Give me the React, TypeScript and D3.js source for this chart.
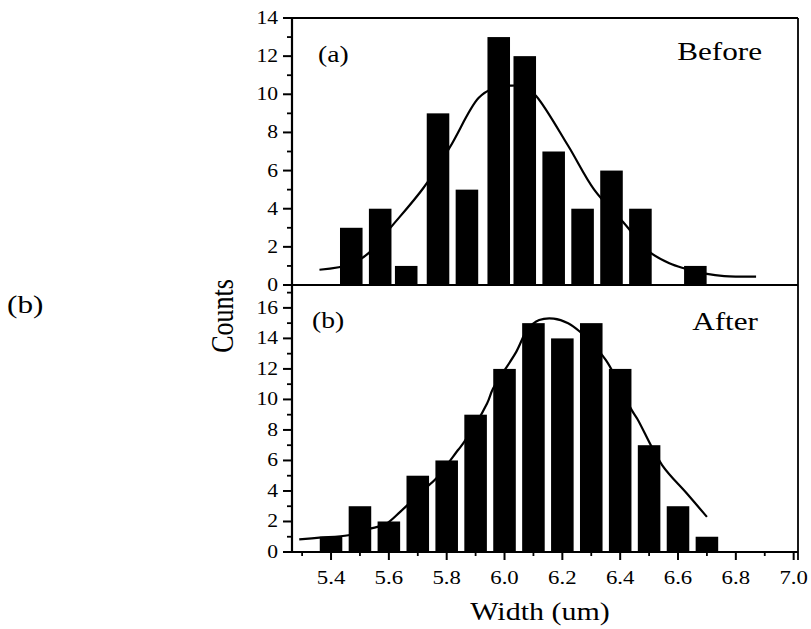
import * as d3 from "d3";

const W = 811;
const H = 629;
const SX = 1.2; // the scanned figure is stretched sideways, so is the text

// Before (a)
const beforeBins = [5.47, 5.57, 5.66, 5.77, 5.87, 5.98, 6.07, 6.17, 6.27, 6.37, 6.47, 6.66];
const beforeCounts = [3, 4, 1, 9, 5, 13, 12, 7, 4, 6, 4, 1];
const beforeFitX = [5.36, 5.47, 5.54, 5.6, 5.72, 5.81, 5.91, 5.96, 6.02, 6.07, 6.11, 6.22, 6.31, 6.41, 6.5, 6.57, 6.62, 6.7, 6.76, 6.87];
const beforeFitY = [0.8, 1.1, 1.8, 2.9, 5.1, 7.2, 9.8, 10.3, 10.45, 10.4, 9.9, 7.3, 5.0, 3.3, 1.75, 1.14, 0.88, 0.58, 0.47, 0.44];

// After (b)
const afterBins = [5.4, 5.5, 5.6, 5.7, 5.8, 5.9, 6.0, 6.1, 6.2, 6.3, 6.4, 6.5, 6.6, 6.7];
const afterCounts = [1, 3, 2, 5, 6, 9, 12, 15, 14, 15, 12, 7, 3, 1];
const afterFitX = [5.29, 5.36, 5.46, 5.53, 5.59, 5.64, 5.73, 5.76, 5.84, 5.86, 5.94, 5.96, 6.04, 6.08, 6.12, 6.17, 6.22, 6.26, 6.35, 6.44, 6.46, 6.545, 6.63, 6.7];
const afterFitY = [0.83, 0.94, 1.1, 1.5, 1.85, 2.65, 4.25, 4.75, 6.7, 7.2, 9.75, 10.7, 13.1, 14.6, 15.2, 15.3, 15.0, 14.45, 12.6, 9.3, 8.7, 5.7, 3.85, 2.3];

const xTicks = [5.4, 5.6, 5.8, 6.0, 6.2, 6.4, 6.6, 6.8, 7.0];
const xTickLabels = ["5.4", "5.6", "5.8", "6.0", "6.2", "6.4", "6.6", "6.8", "7.0"];
const xMinor = [5.3, 5.5, 5.7, 5.9, 6.1, 6.3, 6.5, 6.7, 6.9];
const beforeTicks = [0, 2, 4, 6, 8, 10, 12, 14];
const beforeMinor = [1, 3, 5, 7, 9, 11, 13];
const afterTicks = [0, 2, 4, 6, 8, 10, 12, 14, 16];
const afterMinor = [1, 3, 5, 7, 9, 11, 13, 15, 17];

const FONT = "'Liberation Serif', 'Times New Roman', serif";
const BAR_W = 0.078;

const x = d3.scaleLinear().domain([5.265, 7.015]).range([292, 798]);
const yTop = d3.scaleLinear().domain([0, 14]).range([285, 18]);
const yBot = d3.scaleLinear().domain([0, 17.5]).range([552, 285]);

function Label({ px, py, size, anchor = "start", children }: any) {
  return (
    <text
      transform={`translate(${px},${py}) scale(${SX},1)`}
      textAnchor={anchor}
      fontFamily={FONT}
      fontSize={size}
      fill="#000"
    >
      {children}
    </text>
  );
}

function Panel({ y, bins, counts, fitX, fitY, ticks, minor }: any) {
  const line = d3
    .line<number>()
    .x((_d, i) => x(fitX[i]))
    .y((d) => y(d))
    .curve(d3.curveCatmullRom.alpha(0.5));
  const x0 = x.range()[0];
  return (
    <g>
      {bins.map((b: number, i: number) => (
        <rect
          key={i}
          x={x(b - BAR_W / 2)}
          width={x(b + BAR_W / 2) - x(b - BAR_W / 2)}
          y={y(counts[i])}
          height={y(0) - y(counts[i])}
          fill="#000"
        />
      ))}
      <path d={line(fitY) || ""} fill="none" stroke="#000" strokeWidth={2.2} />
      {ticks.map((t: number) => (
        <g key={"t" + t}>
          <line x1={x0 - 9} x2={x0} y1={y(t)} y2={y(t)} stroke="#000" strokeWidth={2} />
          <Label px={x0 - 14} py={y(t) + 6} size={18} anchor="end">
            {t}
          </Label>
        </g>
      ))}
      {minor.map((t: number) => (
        <line key={"m" + t} x1={x0 - 5} x2={x0} y1={y(t)} y2={y(t)} stroke="#000" strokeWidth={1.8} />
      ))}
    </g>
  );
}

export default function App() {
  const [xl, xr] = x.range();
  return (
    <div style={{ position: "absolute", left: 0, top: 0, width: W, height: H, background: "#fff" }}>
      <svg width={W} height={H} viewBox={`0 0 ${W} ${H}`} style={{ display: "block" }}>
        <rect width={W} height={H} fill="#fff" />

        <Panel
          y={yTop}
          bins={beforeBins}
          counts={beforeCounts}
          fitX={beforeFitX}
          fitY={beforeFitY}
          ticks={beforeTicks}
          minor={beforeMinor}
        />
        <Panel
          y={yBot}
          bins={afterBins}
          counts={afterCounts}
          fitX={afterFitX}
          fitY={afterFitY}
          ticks={afterTicks}
          minor={afterMinor}
        />

        {/* frame */}
        <line x1={xl} x2={xr} y1={yTop(14)} y2={yTop(14)} stroke="#000" strokeWidth={2} />
        <line x1={xl} x2={xr} y1={yTop(0)} y2={yTop(0)} stroke="#000" strokeWidth={2.2} />
        <line x1={xl} x2={xr} y1={yBot(0)} y2={yBot(0)} stroke="#000" strokeWidth={2.2} />
        <line x1={xl} x2={xl} y1={yTop(14)} y2={yBot(0)} stroke="#000" strokeWidth={2.2} />
        <line x1={xr} x2={xr} y1={yTop(14)} y2={yBot(0) + 8} stroke="#000" strokeWidth={1.8} />

        {/* x axis */}
        {xTicks.map((t, i) => (
          <g key={"x" + t}>
            <line x1={x(t)} x2={x(t)} y1={yBot(0)} y2={yBot(0) + 8} stroke="#000" strokeWidth={2} />
            <Label px={x(t)} py={584} size={19} anchor="middle">
              {xTickLabels[i]}
            </Label>
          </g>
        ))}
        {xMinor.map((t) => (
          <line key={"xm" + t} x1={x(t)} x2={x(t)} y1={yBot(0)} y2={yBot(0) + 4} stroke="#000" strokeWidth={1.8} />
        ))}

        <Label px={540} py={620} size={25} anchor="middle">
          Width (um)
        </Label>
        <g transform={`translate(233,316) scale(${SX},1) rotate(-90)`}>
          <text textAnchor="middle" fontFamily={FONT} fontSize={26} fill="#000">
            Counts
          </text>
        </g>

        <Label px={318} py={62} size={23}>
          (a)
        </Label>
        <Label px={762} py={60} size={26} anchor="end">
          Before
        </Label>
        <Label px={312} py={328} size={23}>
          (b)
        </Label>
        <Label px={758} py={330} size={26} anchor="end">
          After
        </Label>
        <Label px={7} py={313} size={26}>
          (b)
        </Label>
      </svg>
    </div>
  );
}
